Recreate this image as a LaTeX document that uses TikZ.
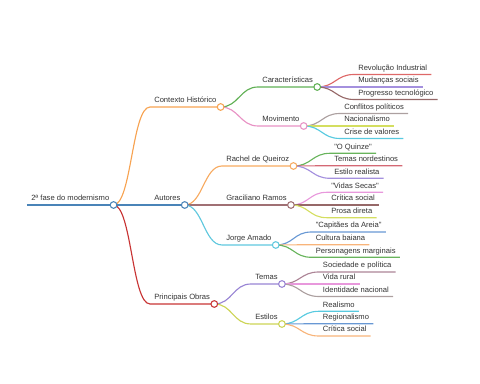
\documentclass[tikz,border=0pt]{standalone}
\usepackage{fontspec}
\setmainfont{Liberation Sans}[Ligatures=TeXOff]
\usepackage{tikz}
\usetikzlibrary{positioning}

% branch colours
\definecolor{cRoot}{RGB}{74,132,184}
\definecolor{cCtx}{RGB}{247,163,82}
\definecolor{cObr}{RGB}{200,52,52}
\definecolor{cCar}{RGB}{96,176,84}
\definecolor{cMov}{RGB}{232,146,196}
\definecolor{cRq}{RGB}{247,170,96}
\definecolor{cGr}{RGB}{160,112,116}
\definecolor{cJa}{RGB}{96,200,222}
\definecolor{cTem}{RGB}{152,132,212}
\definecolor{cEst}{RGB}{204,212,84}
% leaf colours
\definecolor{lRed}{RGB}{222,104,104}
\definecolor{lPur}{RGB}{164,144,222}
\definecolor{lBrn}{RGB}{150,104,104}
\definecolor{lGry}{RGB}{172,160,160}
\definecolor{lYel}{RGB}{212,222,96}
\definecolor{lCya}{RGB}{88,202,224}
\definecolor{lGrn}{RGB}{104,180,92}
\definecolor{lRos}{RGB}{212,104,116}
\definecolor{lPnk}{RGB}{232,152,220}
\definecolor{lBlu}{RGB}{104,152,212}
\definecolor{lOra}{RGB}{248,180,122}
\definecolor{lMau}{RGB}{172,132,150}

\begin{document}
\begin{tikzpicture}[
  x=0.75pt, y=-0.75pt,
  txt/.style={anchor=south west, inner xsep=3pt, inner ysep=0.4pt,
    text depth=0.25em, text=black!80, font=\fontsize{5.7}{6.8}\selectfont},
  edge/.style={line width=0.85pt},
  link/.style={to path={.. controls +(18,0) and +(-18,0) .. (\tikztotarget)}},
  dot/.style={circle, draw, fill=white, inner sep=0pt, minimum size=5pt, line width=0.8pt}
]
  \useasboundingbox (0,0) rectangle (480,384);

  % Nodes
  \node[txt] (root) at (27,205) {2ª fase do modernismo};

  \node[txt] (ctx) at (150,107) {Contexto Histórico};
  \node[txt] (aut) at (150,205) {Autores};
  \node[txt] (obr) at (150,304) {Principais Obras};

  \node[txt] (car) at (258,87) {Características};
  \node[txt] (mov) at (258,126) {Movimento};
  \node[txt] (rq) at (222,166) {Rachel de Queiroz};
  \node[txt] (gr) at (222,205) {Graciliano Ramos};
  \node[txt] (ja) at (222,245) {Jorge Amado};
  \node[txt] (tem) at (251,284) {Temas};
  \node[txt] (est) at (251,324) {Estilos};

  \node[txt] (rev) at (354,74.5) {Revolução Industrial};
  \node[txt] (mud) at (354,87) {Mudanças sociais};
  \node[txt] (pro) at (354,99.5) {Progresso tecnológico};
  \node[txt] (con) at (340,113.5) {Conflitos políticos};
  \node[txt] (nac) at (340,126) {Nacionalismo};
  \node[txt] (cri) at (340,138.5) {Crise de valores};
  \node[txt] (qui) at (330,153.3) {"O Quinze"};
  \node[txt] (nor) at (330,165.7) {Temas nordestinos};
  \node[txt] (rea) at (330,178.3) {Estilo realista};
  \node[txt] (vid) at (327,192.3) {"Vidas Secas"};
  \node[txt] (cso) at (327,205) {Crítica social};
  \node[txt] (pdi) at (327,217.7) {Prosa direta};
  \node[txt] (cap) at (311.5,232) {"Capitães da Areia"};
  \node[txt] (cba) at (311.5,244.7) {Cultura baiana};
  \node[txt] (pma) at (311.5,257.3) {Personagens marginais};
  \node[txt] (soc) at (318.7,272) {Sociedade e política};
  \node[txt] (vru) at (318.7,284) {Vida rural};
  \node[txt] (ide) at (318.7,296.5) {Identidade nacional};
  \node[txt] (rsm) at (318.7,311.3) {Realismo};
  \node[txt] (reg) at (318.7,323.7) {Regionalismo};
  \node[txt] (crs) at (318.7,336) {Crítica social};

  % Links
  \draw[edge, cRoot] (root.south west) -- (root.south east);
  \draw[edge, cCtx] (root.south east) to[link] (ctx.south west) -- (ctx.south east);
  \draw[edge, cRoot] (root.south east) to[link] (aut.south west) -- (aut.south east);
  \draw[edge, cObr] (root.south east) to[link] (obr.south west) -- (obr.south east);

  \draw[edge, cCar] (ctx.south east) to[link] (car.south west) -- (car.south east);
  \draw[edge, cMov] (ctx.south east) to[link] (mov.south west) -- (mov.south east);
  \draw[edge, cRq] (aut.south east) to[link] (rq.south west) -- (rq.south east);
  \draw[edge, cGr] (aut.south east) to[link] (gr.south west) -- (gr.south east);
  \draw[edge, cJa] (aut.south east) to[link] (ja.south west) -- (ja.south east);
  \draw[edge, cTem] (obr.south east) to[link] (tem.south west) -- (tem.south east);
  \draw[edge, cEst] (obr.south east) to[link] (est.south west) -- (est.south east);

  \draw[edge, lRed] (car.south east) to[link] (rev.south west) -- (rev.south east);
  \draw[edge, lPur] (car.south east) to[link] (mud.south west) -- (mud.south east);
  \draw[edge, lBrn] (car.south east) to[link] (pro.south west) -- (pro.south east);
  \draw[edge, lGry] (mov.south east) to[link] (con.south west) -- (con.south east);
  \draw[edge, lYel] (mov.south east) to[link] (nac.south west) -- (nac.south east);
  \draw[edge, lCya] (mov.south east) to[link] (cri.south west) -- (cri.south east);
  \draw[edge, lGrn] (rq.south east) to[link] (qui.south west) -- (qui.south east);
  \draw[edge, lRos] (rq.south east) to[link] (nor.south west) -- (nor.south east);
  \draw[edge, lPur] (rq.south east) to[link] (rea.south west) -- (rea.south east);
  \draw[edge, lPnk] (gr.south east) to[link] (vid.south west) -- (vid.south east);
  \draw[edge, lBrn] (gr.south east) to[link] (cso.south west) -- (cso.south east);
  \draw[edge, lYel] (gr.south east) to[link] (pdi.south west) -- (pdi.south east);
  \draw[edge, lBlu] (ja.south east) to[link] (cap.south west) -- (cap.south east);
  \draw[edge, lOra] (ja.south east) to[link] (cba.south west) -- (cba.south east);
  \draw[edge, lGrn] (ja.south east) to[link] (pma.south west) -- (pma.south east);
  \draw[edge, lMau] (tem.south east) to[link] (soc.south west) -- (soc.south east);
  \draw[edge, lPnk] (tem.south east) to[link] (vru.south west) -- (vru.south east);
  \draw[edge, lGry] (tem.south east) to[link] (ide.south west) -- (ide.south east);
  \draw[edge, lCya] (est.south east) to[link] (rsm.south west) -- (rsm.south east);
  \draw[edge, lBlu] (est.south east) to[link] (reg.south west) -- (reg.south east);
  \draw[edge, lOra] (est.south east) to[link] (crs.south west) -- (crs.south east);

  % Knots
  \node[dot, draw=cRoot] (root-o) at (root.south east) {};
  \node[dot, draw=cCtx] (ctx-o) at (ctx.south east) {};
  \node[dot, draw=cRoot] (aut-o) at (aut.south east) {};
  \node[dot, draw=cObr] (obr-o) at (obr.south east) {};
  \node[dot, draw=cCar] (car-o) at (car.south east) {};
  \node[dot, draw=cMov] (mov-o) at (mov.south east) {};
  \node[dot, draw=cRq] (rq-o) at (rq.south east) {};
  \node[dot, draw=cGr] (gr-o) at (gr.south east) {};
  \node[dot, draw=cJa] (ja-o) at (ja.south east) {};
  \node[dot, draw=cTem] (tem-o) at (tem.south east) {};
  \node[dot, draw=cEst] (est-o) at (est.south east) {};
\end{tikzpicture}
\end{document}
